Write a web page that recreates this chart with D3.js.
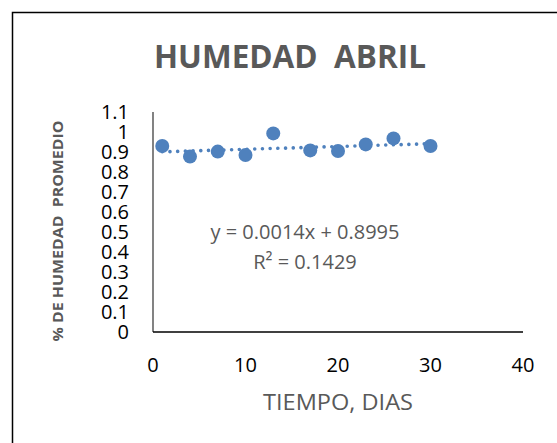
<!DOCTYPE html>
<html>
<head>
<meta charset="utf-8">
<script src="https://cdn.jsdelivr.net/npm/d3@7"></script>
<style>
  html, body { margin: 0; padding: 0; background: #fff; }
  svg { display: block; }
</style>
</head>
<body>
<script>
// ---- data ----
const days = [1, 4, 7, 10, 13, 17, 20, 23, 26, 30];
const humidity = [0.93, 0.877, 0.902, 0.885, 0.993, 0.908, 0.905, 0.938, 0.968, 0.93];
const xTicks = [0, 10, 20, 30, 40];
const yTicks = [0, 0.1, 0.2, 0.3, 0.4, 0.5, 0.6, 0.7, 0.8, 0.9, 1, 1.1];
const yTickLabels = ["0", "0.1", "0.2", "0.3", "0.4", "0.5", "0.6", "0.7", "0.8", "0.9", "1", "1.1"];
const trendSlope = [0.0014];
const trendIntercept = [0.8995];
const trendLabels = ["y = 0.0014x + 0.8995", "R² = 0.1429"];
const titleText = "HUMEDAD  ABRIL";
const xTitle = "TIEMPO, DIAS";
const yTitle = "% DE HUMEDAD  PROMEDIO";

const W = 557, H = 443;
const svg = d3.select("body").append("svg").attr("width", W).attr("height", H);

// chart border (extends beyond the window on right and bottom)
svg.append("rect").attr("x", 12.5).attr("y", 12.5).attr("width", 600).attr("height", 500)
  .attr("fill", "#fff").attr("stroke", "#000").attr("stroke-width", 1.5);

const x = d3.scaleLinear().domain([0, 40]).range([153, 523]);
const y = d3.scaleLinear().domain([0, 1.1]).range([332, 112]);

const font = "'Open Sans', sans-serif";

// title
svg.append("text").attr("x", 290).attr("y", 68).attr("text-anchor", "middle")
  .attr("font-family", font).attr("font-weight", "bold").attr("font-size", 32)
  .attr("fill", "#595959").attr("textLength", 272).attr("lengthAdjust", "spacingAndGlyphs")
  .style("white-space", "pre").text(titleText);

// axes lines
svg.append("line").attr("x1", x(0)).attr("x2", x(0)).attr("y1", y(1.1)).attr("y2", y(0))
  .attr("stroke", "#404040").attr("stroke-width", 1.3);
svg.append("line").attr("x1", x(0)).attr("x2", x(40)).attr("y1", y(0)).attr("y2", y(0))
  .attr("stroke", "#000").attr("stroke-width", 1.5);

// y tick labels
svg.append("g").selectAll("text").data(yTicks).join("text")
  .attr("x", 129).attr("y", d => y(d)).attr("dy", "0.36em").attr("text-anchor", "end")
  .attr("font-family", font).attr("font-size", 20).attr("fill", "#000")
  .text((d, i) => yTickLabels[i]);

// x tick labels
svg.append("g").selectAll("text").data(xTicks).join("text")
  .attr("x", d => x(d)).attr("y", 365).attr("dy", "0.36em").attr("text-anchor", "middle")
  .attr("font-family", font).attr("font-size", 20).attr("fill", "#000")
  .text(d => d3.format("d")(d));

// axis titles
svg.append("text").attr("x", 338).attr("y", 402).attr("dy", "0.36em").attr("text-anchor", "middle")
  .attr("font-family", font).attr("font-size", 21).attr("fill", "#595959")
  .attr("textLength", 150).attr("lengthAdjust", "spacingAndGlyphs")
  .text(xTitle);

svg.append("text").attr("transform", "translate(58,231) rotate(-90)")
  .attr("dy", "0.36em").attr("text-anchor", "middle")
  .attr("font-family", font).attr("font-weight", "bold").attr("font-size", 14.5).attr("fill", "#595959")
  .attr("textLength", 221).attr("lengthAdjust", "spacingAndGlyphs")
  .style("white-space", "pre").text(yTitle);

// trendline (dotted)
const tx0 = d3.min(days), tx1 = d3.max(days);
const trendPts = [tx0, tx1].map(d => [d, trendIntercept[0] + trendSlope[0] * d]);
svg.append("path")
  .attr("d", d3.line().x(d => x(d[0])).y(d => y(d[1]))(trendPts))
  .attr("fill", "none").attr("stroke", "#4F81BD").attr("stroke-width", 3.6)
  .attr("stroke-linecap", "round").attr("stroke-dasharray", "0.01 7.7");

// points
svg.append("g").selectAll("circle").data(days).join("circle")
  .attr("cx", d => x(d)).attr("cy", (d, i) => y(humidity[i])).attr("r", 7)
  .attr("fill", "#4F81BD");

// trend labels
svg.append("g").selectAll("text").data(trendLabels).join("text")
  .attr("x", 305).attr("y", (d, i) => 232 + i * 29.5).attr("dy", "0.36em").attr("text-anchor", "middle")
  .attr("font-family", font).attr("font-size", 20).attr("fill", "#595959")
  .text(d => d);
</script>
</body>
</html>
